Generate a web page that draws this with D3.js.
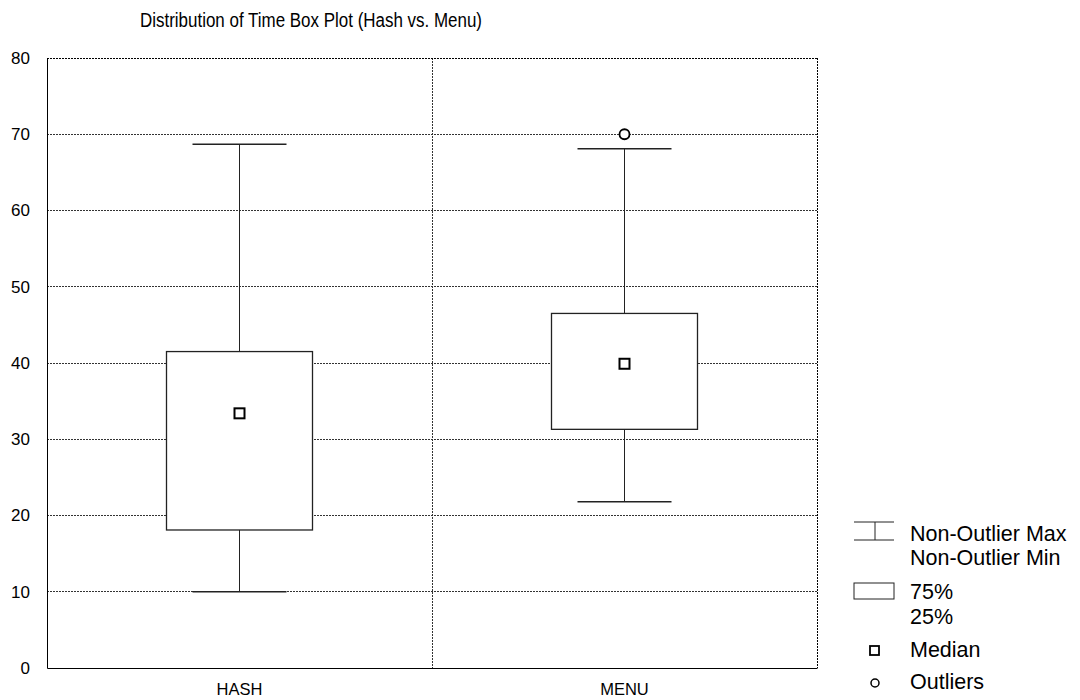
<!DOCTYPE html>
<html>
<head>
<meta charset="utf-8">
<script src="https://cdn.jsdelivr.net/npm/d3@7"></script>
<style>
  body { margin: 0; background: #fff; }
  text { font-family: "Liberation Sans", Arial, sans-serif; fill: #000; }
</style>
</head>
<body>
<svg id="chart" width="1080" height="700"></svg>
<script>
const categories = ["HASH", "MENU"]
const whiskerMax = [68.7, 68.1]
const q3 = [41.5, 46.5]
const median = [33.4, 39.9]
const q1 = [18.1, 31.3]
const whiskerMin = [10.0, 21.8]
const outliers = [[], [70.0]]
const yTicks = [0, 10, 20, 30, 40, 50, 60, 70, 80]

const svg = d3.select('#chart')
const margin = {left: 47, right: 263, top: 58, bottom: 32}
const width = 1080, height = 700

const x = d3.scaleBand()
    .domain(categories)
    .range([margin.left, width - margin.right])

const y = d3.scaleLinear()
    .domain([0, 80])
    .range([height - margin.bottom, margin.top])

const boxes = categories.map((c, i) => ({
    cat: c, max: whiskerMax[i], q3: q3[i], med: median[i],
    q1: q1[i], min: whiskerMin[i], out: outliers[i]
}))

// title
svg.append('text')
    .attr('x', 140).attr('y', 27)
    .attr('font-size', 20)
    .attr('textLength', 342)
    .attr('lengthAdjust', 'spacingAndGlyphs')
    .text('Distribution of Time Box Plot (Hash vs. Menu)')

// grid
const grid = svg.append('g')
    .attr('stroke', '#333')
    .attr('stroke-width', 1)
    .attr('stroke-dasharray', '1.5,1.5')
    .attr('shape-rendering', 'crispEdges')

grid.selectAll('line.h')
    .data(yTicks.filter(t => t > 0 && t < 80))
    .join('line')
    .attr('x1', margin.left).attr('x2', width - margin.right)
    .attr('y1', d => y(d)).attr('y2', d => y(d))

grid.append('line')
    .attr('x1', x(categories[1])).attr('x2', x(categories[1]))
    .attr('y1', y(80)).attr('y2', y(0))

// frame: top/right dotted, left/bottom solid
grid.append('line')
    .attr('x1', margin.left).attr('x2', width - margin.right)
    .attr('y1', y(80)).attr('y2', y(80))
    .attr('stroke', '#000').attr('stroke-dasharray', '2,1')
grid.append('line')
    .attr('x1', width - margin.right).attr('x2', width - margin.right)
    .attr('y1', y(80)).attr('y2', y(0))
    .attr('stroke', '#000').attr('stroke-dasharray', '2,1')

const yAxis = d3.axisLeft(y).tickValues(yTicks).tickSize(0).tickPadding(17)
svg.append('g')
    .attr('transform', `translate(${margin.left},0)`)
    .call(yAxis)
    .call(g => g.select('.domain').attr('stroke', '#000'))
    .call(g => g.selectAll('text').attr('font-size', 17)
        .attr('font-family', '"Liberation Sans", Arial, sans-serif'))

const xAxis = d3.axisBottom(x).tickSize(0).tickPadding(15)
svg.append('g')
    .attr('transform', `translate(0,${y(0)})`)
    .call(xAxis)
    .call(g => g.select('.domain').attr('stroke', '#000'))
    .call(g => g.selectAll('text').attr('font-size', 16.5)
        .attr('font-family', '"Liberation Sans", Arial, sans-serif'))

// boxes
const boxW = 146, capW = 94
const cx = d => x(d.cat) + x.bandwidth() / 2

const bp = svg.append('g').selectAll('g')
    .data(boxes)
    .join('g')

bp.append('line')
    .attr('x1', cx).attr('x2', cx)
    .attr('y1', d => y(d.max)).attr('y2', d => y(d.min))
    .attr('stroke', '#222')
bp.append('line')
    .attr('x1', d => cx(d) - capW / 2).attr('x2', d => cx(d) + capW / 2)
    .attr('y1', d => y(d.max)).attr('y2', d => y(d.max))
    .attr('stroke', '#222').attr('stroke-width', 1.5)
bp.append('line')
    .attr('x1', d => cx(d) - capW / 2).attr('x2', d => cx(d) + capW / 2)
    .attr('y1', d => y(d.min)).attr('y2', d => y(d.min))
    .attr('stroke', '#222').attr('stroke-width', 1.5)
bp.append('rect')
    .attr('x', d => cx(d) - boxW / 2)
    .attr('width', boxW)
    .attr('y', d => y(d.q3))
    .attr('height', d => y(d.q1) - y(d.q3))
    .attr('fill', '#fff')
    .attr('stroke', '#222')
    .attr('stroke-width', 1.3)
bp.append('rect')
    .attr('x', d => cx(d) - 5).attr('y', d => y(d.med) - 5)
    .attr('width', 10).attr('height', 10)
    .attr('fill', '#fff').attr('stroke', '#000').attr('stroke-width', 2)
bp.selectAll('circle')
    .data(d => d.out.map(v => ({v, c: cx(d)})))
    .join('circle')
    .attr('cx', d => d.c).attr('cy', d => y(d.v))
    .attr('r', 5)
    .attr('fill', '#fff').attr('stroke', '#000').attr('stroke-width', 1.8)

// legend
const lg = svg.append('g')
lg.append('line').attr('x1', 854).attr('x2', 894).attr('y1', 522).attr('y2', 522).attr('stroke', '#222')
lg.append('line').attr('x1', 854).attr('x2', 894).attr('y1', 540).attr('y2', 540).attr('stroke', '#222')
lg.append('line').attr('x1', 875).attr('x2', 875).attr('y1', 522).attr('y2', 540).attr('stroke', '#222')
lg.append('rect').attr('x', 854).attr('y', 583).attr('width', 40).attr('height', 16)
    .attr('fill', '#fff').attr('stroke', '#222')
lg.append('rect').attr('x', 870).attr('y', 646).attr('width', 9).attr('height', 9)
    .attr('fill', '#fff').attr('stroke', '#000').attr('stroke-width', 1.8)
lg.append('circle').attr('cx', 875).attr('cy', 683).attr('r', 4)
    .attr('fill', '#fff').attr('stroke', '#000').attr('stroke-width', 1.5)

const legendText = [
    ['Non-Outlier Max', 541], ['Non-Outlier Min', 565],
    ['75%', 599], ['25%', 624], ['Median', 657], ['Outliers', 689]
]
lg.selectAll('text.l')
    .data(legendText)
    .join('text')
    .attr('x', 910).attr('y', d => d[1])
    .attr('font-size', 21.5)
    .text(d => d[0])
</script>
</body>
</html>
